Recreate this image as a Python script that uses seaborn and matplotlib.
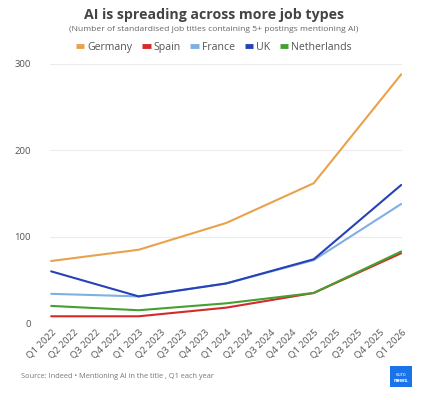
import pandas as pd
import matplotlib.pyplot as plt
import seaborn as sns
from matplotlib.patches import FancyBboxPatch

quarters = ["Q1 2022", "Q2 2022", "Q3 2022", "Q4 2022", "Q1 2023", "Q2 2023", "Q3 2023",
            "Q4 2023", "Q1 2024", "Q2 2024", "Q3 2024", "Q4 2024", "Q1 2025", "Q2 2025",
            "Q3 2025", "Q4 2025", "Q1 2026"]
# data only exists for Q1 of each year
data_quarters = ["Q1 2022", "Q1 2023", "Q1 2024", "Q1 2025", "Q1 2026"]

germany = [72, 85, 116, 162, 288]
spain = [8, 8, 18, 35, 81]
france = [34, 31, 46, 73, 138]
uk = [60, 31, 46, 74, 160]
netherlands = [20, 15, 23, 35, 83]

countries = ["Germany", "Spain", "France", "UK", "Netherlands"]
colors = ["#e9a24c", "#d42a2a", "#7fb0e3", "#2741b8", "#45a030"]

rows = []
for name, vals in zip(countries, [germany, spain, france, uk, netherlands]):
    for q, v in zip(data_quarters, vals):
        rows.append({"Quarter": quarters.index(q), "Country": name, "Value": v})
df = pd.DataFrame(rows)

sns.set_style("white")
plt.rcParams['font.family'] = ['Open Sans', 'DejaVu Sans']

fig = plt.figure(figsize=(4.28, 4.00), dpi=100)
ax = fig.add_axes([0.117, 0.192, 0.823, 0.648])

sns.lineplot(data=df, x="Quarter", y="Value", hue="Country", hue_order=countries,
             palette=colors, linewidth=1.5, ax=ax, legend=False)

ax.set_xlim(-0.05, 16.05)
ax.set_ylim(0, 300)
ax.set_yticks([0, 100, 200, 300])
ax.set_xticks(range(len(quarters)))
ax.set_xticklabels(quarters, rotation=45, ha="right", rotation_mode="anchor",
                   fontsize=6.8, color="#555555")
ax.tick_params(axis="y", labelsize=6.8, colors="#555555", length=0, pad=14)
ax.tick_params(axis="x", length=0, pad=3)
ax.set_xlabel("")
ax.set_ylabel("")
ax.grid(axis="y", color="#ececec", linewidth=0.8)
for s in ax.spines.values():
    s.set_visible(False)

fig.text(0.5, 0.963, "AI is spreading across more job types", ha="center", va="center",
         fontsize=10.2, fontweight="bold", color="#444444")
fig.text(0.5, 0.926, "(Number of standardised job titles containing 5+ postings mentioning AI)",
         ha="center", va="center", fontsize=6.1, color="#666666")

# legend with small flat swatches
handles = [plt.Line2D([0], [0], color=c, linewidth=3.5, solid_capstyle="butt") for c in colors]
fig.legend(handles, countries, loc="center", bbox_to_anchor=(0.5, 0.882), ncol=5,
           frameon=False, fontsize=7.6, handlelength=0.8, handletextpad=0.3,
           columnspacing=0.9, labelcolor="#555555")

fig.text(0.05, 0.058, "Source: Indeed • Mentioning AI in the title , Q1 each year",
         ha="left", va="center", fontsize=5.3, color="#777777")

# euronews logo box
logo = FancyBboxPatch((0.912, 0.033), 0.05, 0.052, boxstyle="square,pad=0",
                      transform=fig.transFigure, facecolor="#1a73e8", edgecolor="none")
fig.patches.append(logo)
fig.text(0.937, 0.065, "euro", ha="center", va="center", fontsize=3.5, color="white")
fig.text(0.937, 0.05, "news.", ha="center", va="center", fontsize=4, color="white",
         fontweight="bold")

fig.savefig("out.png", dpi=100)
